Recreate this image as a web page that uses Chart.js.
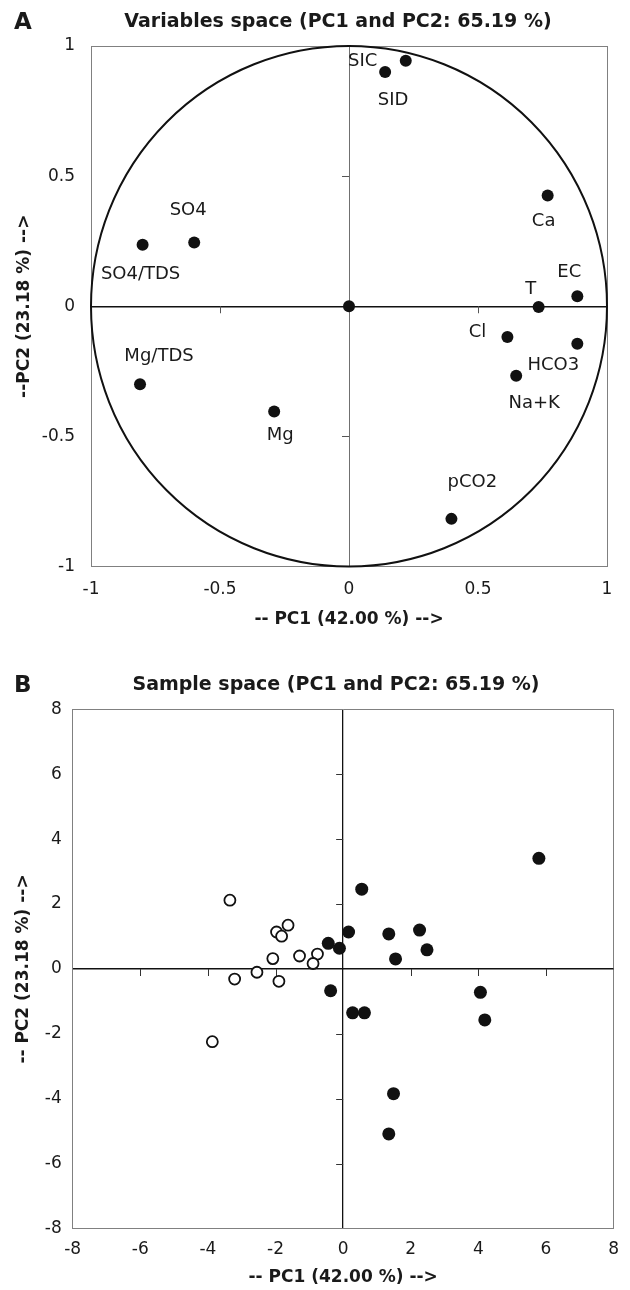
<!DOCTYPE html>
<html>
<head>
<meta charset="utf-8">
<script src="https://cdn.jsdelivr.net/npm/chart.js@4.4.1/dist/chart.umd.min.js"></script>
<style>
  body { margin: 0; background: #fff; }
  canvas { position: absolute; left: 0; }
</style>
</head>
<body>
<canvas id="chartA" width="630" height="640" style="top:0"></canvas>
<canvas id="chartB" width="630" height="650" style="top:640px"></canvas>
<script>
// panel A: variable loadings
const varNames = ["SIC", "SID", "Ca", "EC", "T", "SO4", "SO4/TDS", "Cl", "HCO3", "Na+K", "Mg/TDS", "Mg", "pCO2", ""];
const varPC1 = [0.22, 0.14, 0.77, 0.885, 0.735, -0.60, -0.80, 0.614, 0.885, 0.648, -0.81, -0.29, 0.397, 0];
const varPC2 = [0.943, 0.90, 0.426, 0.038, -0.003, 0.245, 0.236, -0.118, -0.144, -0.267, -0.30, -0.404, -0.817, 0];

// panel B: sample scores (two groups)
const filledPC1 = [5.79, 0.55, 0.16, 1.35, 2.26, 2.48, 1.55, -0.44, -0.11, -0.37, 0.28, 0.63, 4.06, 4.19, 1.49, 1.35];
const filledPC2 = [3.41, 2.46, 1.14, 1.08, 1.20, 0.59, 0.31, 0.79, 0.64, -0.67, -1.35, -1.35, -0.72, -1.57, -3.84, -5.08];
const openPC1 = [-3.35, -1.97, -1.63, -1.82, -2.08, -1.29, -0.76, -0.89, -2.55, -3.21, -1.90, -3.87];
const openPC2 = [2.12, 1.14, 1.35, 1.01, 0.32, 0.40, 0.46, 0.17, -0.10, -0.31, -0.38, -2.24];

const titleA = "Variables space (PC1 and PC2: 65.19 %)";
const titleB = "Sample space (PC1 and PC2: 65.19 %)";
const xTitle = "-- PC1 (42.00 %) -->";
const yTitleA = "--PC2 (23.18 %) -->";
const yTitleB = "-- PC2 (23.18 %) -->";

// label placement next to each loading point (pixels)
const labelOffsets = {
  "SIC": [-43, 0], "SID": [8, 28], "Ca": [-4, 26], "EC": [-8, -24], "T": [-8, -18],
  "SO4": [-6, -32], "SO4/TDS": [-2, 29], "Cl": [-30, -5], "HCO3": [-24, 22],
  "Na+K": [18, 28], "Mg/TDS": [19, -28], "Mg": [6, 24], "pCO2": [21, -37]
};

const cblack = "#111111";
const cframe = "#808080";
const ctext = "#1a1a1a";
const family = "'DejaVu Sans', sans-serif";

Chart.defaults.font.family = family;
Chart.defaults.color = ctext;

function toPoints(xs, ys) {
  return xs.map((v, i) => ({ x: v, y: ys[i] }));
}

// grid only at the frame edges and at zero
function edgeGrid(zeroColor, zeroWidth) {
  return {
    drawTicks: false,
    color: c => {
      if (c.tick.value === 0) return zeroColor;
      const n = c.scale.ticks.length;
      return (c.index === 0 || c.index === n - 1) ? cframe : "rgba(0,0,0,0)";
    },
    lineWidth: c => c.tick.value === 0 ? zeroWidth : 1
  };
}

// small tick marks sitting on the zero lines, optional unit circle
function zeroAxes(opts) {
  return {
    id: "zeroAxes",
    beforeDatasetsDraw(chart) {
      const { ctx, scales: { x, y } } = chart;
      const x0 = x.getPixelForValue(0);
      const y0 = y.getPixelForValue(0);
      ctx.save();
      ctx.strokeStyle = opts.tickColor;
      ctx.lineWidth = 1;
      x.ticks.forEach(t => {
        if (t.value === 0 || t.value === x.min || t.value === x.max) return;
        const px = Math.round(x.getPixelForValue(t.value)) + 0.5;
        ctx.beginPath();
        ctx.moveTo(px, y0);
        ctx.lineTo(px, y0 + opts.tickLen);
        ctx.stroke();
      });
      y.ticks.forEach(t => {
        if (t.value === 0 || t.value === y.min || t.value === y.max) return;
        const py = Math.round(y.getPixelForValue(t.value)) + 0.5;
        ctx.beginPath();
        ctx.moveTo(x0 - opts.tickLen, py);
        ctx.lineTo(x0, py);
        ctx.stroke();
      });
      if (opts.circle) {
        const rx = x.getPixelForValue(1) - x0;
        const ry = y0 - y.getPixelForValue(1);
        ctx.strokeStyle = cblack;
        ctx.lineWidth = 2;
        ctx.beginPath();
        ctx.ellipse(x0, y0, rx, ry, 0, 0, Math.PI * 2);
        ctx.stroke();
      }
      ctx.restore();
    }
  };
}

function headings(letter, title, titleX, y) {
  return {
    id: "headings",
    afterDraw(chart) {
      const { ctx } = chart;
      ctx.save();
      ctx.fillStyle = ctext;
      ctx.textBaseline = "middle";
      ctx.textAlign = "left";
      ctx.font = "bold 23px " + family;
      ctx.fillText(letter, 14, y + 1);
      ctx.textAlign = "center";
      ctx.font = "bold 19px " + family;
      ctx.fillText(title, titleX, y);
      ctx.restore();
    }
  };
}

const pointLabels = {
  id: "pointLabels",
  afterDatasetsDraw(chart) {
    const { ctx } = chart;
    const meta = chart.getDatasetMeta(0);
    ctx.save();
    ctx.font = "18px " + family;
    ctx.fillStyle = ctext;
    ctx.textAlign = "center";
    ctx.textBaseline = "middle";
    meta.data.forEach((pt, i) => {
      const name = varNames[i];
      if (!name) return;
      const off = labelOffsets[name];
      ctx.fillText(name, pt.x + off[0], pt.y + off[1]);
    });
    ctx.restore();
  }
};

// plain numbers: 1, 0.5, 0, -0.5 ...
const plainTick = v => String(Math.round(v * 100) / 100);

function scatterOptions(cfg) {
  return {
    responsive: false,
    animation: false,
    layout: { padding: cfg.padding },
    plugins: { legend: { display: false }, tooltip: { enabled: false }, title: { display: false } },
    scales: {
      x: {
        type: "linear",
        min: cfg.min, max: cfg.max,
        ticks: { stepSize: cfg.step, padding: cfg.xTickPad, font: { size: 17 }, color: ctext, maxRotation: 0, callback: plainTick },
        grid: edgeGrid(cfg.vZero, cfg.vZeroWidth),
        border: { color: cframe, width: 1 },
        title: { display: true, text: xTitle, font: { size: 17, weight: "bold" }, color: ctext, padding: { top: 0, bottom: cfg.xTitlePad } },
        afterFit: s => { s.height = cfg.xHeight; }
      },
      y: {
        type: "linear",
        min: cfg.min, max: cfg.max,
        ticks: { stepSize: cfg.step, padding: cfg.yTickPad, font: { size: 17 }, color: ctext, callback: plainTick },
        grid: edgeGrid(cblack, 1.5),
        border: { color: cframe, width: 1 },
        title: { display: true, text: cfg.yTitle, font: { size: 17, weight: "bold" }, color: ctext, padding: { top: cfg.yTitlePad, bottom: 0 } },
        afterFit: s => { s.width = cfg.yWidth; }
      }
    }
  };
}

new Chart(document.getElementById("chartA"), {
  type: "scatter",
  data: {
    datasets: [{
      data: toPoints(varPC1, varPC2),
      pointRadius: 6,
      pointBackgroundColor: cblack,
      pointBorderColor: cblack,
      pointBorderWidth: 0
    }]
  },
  options: scatterOptions({
    padding: { left: 0, right: 23, top: 46, bottom: 0 },
    min: -1, max: 1, step: 0.5,
    xTickPad: 13, yTickPad: 16,
    xHeight: 73.5, yWidth: 91,
    xTitlePad: 10, yTitlePad: 14,
    yTitle: yTitleA,
    vZero: "#707070", vZeroWidth: 1
  }),
  plugins: [zeroAxes({ tickColor: "#555", tickLen: 7, circle: true }), pointLabels, headings("A", titleA, 338, 22)]
});

new Chart(document.getElementById("chartB"), {
  type: "scatter",
  data: {
    datasets: [{
      data: toPoints(filledPC1, filledPC2),
      pointRadius: 6.5,
      pointBackgroundColor: cblack,
      pointBorderColor: cblack,
      pointBorderWidth: 0
    }, {
      data: toPoints(openPC1, openPC2),
      pointRadius: 5.5,
      pointBackgroundColor: "#ffffff",
      pointBorderColor: cblack,
      pointBorderWidth: 1.8
    }]
  },
  options: scatterOptions({
    padding: { left: 0, right: 14, top: 69.3, bottom: 0 },
    min: -8, max: 8, step: 2,
    xTickPad: 11, yTickPad: 11,
    xHeight: 61.3, yWidth: 72.7,
    xTitlePad: 2, yTitlePad: 13,
    yTitle: yTitleB,
    vZero: cblack, vZeroWidth: 1.3
  }),
  plugins: [zeroAxes({ tickColor: "#333", tickLen: 7, circle: false }), headings("B", titleB, 336, 45)]
});
</script>
</body>
</html>
